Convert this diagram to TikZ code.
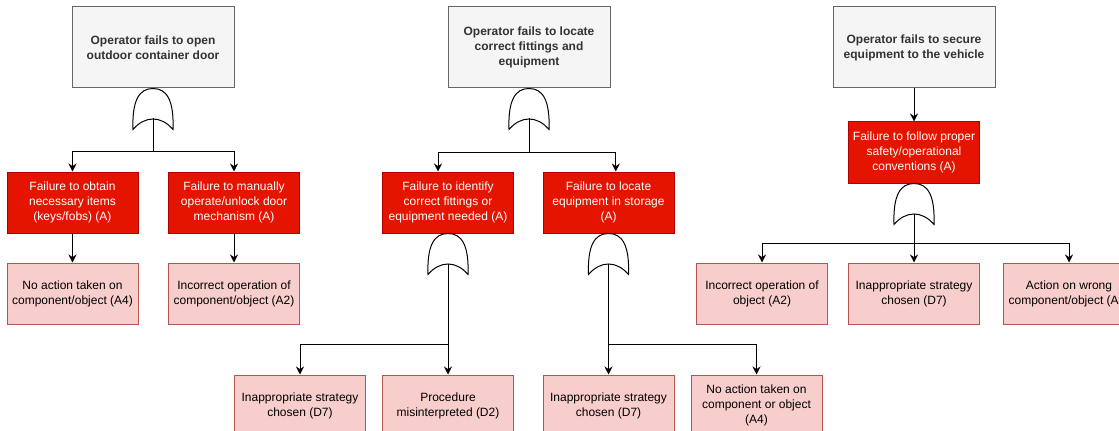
\documentclass[tikz,border=0pt]{standalone}
\usepackage{fontspec}
\setmainfont{Liberation Sans}
\usetikzlibrary{arrows.meta}

\definecolor{topfill}{HTML}{F5F5F5}
\definecolor{topline}{HTML}{666666}
\definecolor{toptext}{HTML}{333333}
\definecolor{failfill}{HTML}{E51400}
\definecolor{failline}{HTML}{B20000}
\definecolor{causefill}{HTML}{F8CECC}
\definecolor{causeline}{HTML}{B85450}

\tikzset{
  topbox/.style={draw=topline, fill=topfill, text=toptext, line width=0.75pt,
    minimum width=121.5pt, minimum height=60.75pt, align=center,
    font=\fontsize{9pt}{11.25pt}\selectfont\bfseries},
  failbox/.style={draw=failline, fill=failfill, text=white, line width=0.75pt,
    minimum width=98.25pt, minimum height=45.75pt, align=center,
    font=\fontsize{9pt}{11.25pt}\selectfont},
  causebox/.style={draw=causeline, fill=causefill, text=black, line width=0.75pt,
    minimum width=98.25pt, minimum height=45.75pt, align=center,
    font=\fontsize{9pt}{11.25pt}\selectfont},
  arr/.style={-{Stealth[length=6pt,width=6pt,inset=2pt]}, line width=0.75pt},
  link/.style={line width=0.75pt},
  orshape/.style={draw=black, fill=white, line width=0.75pt}
}

% OR gate hanging below a point: #1 = name, #2 = top point
\newcommand{\orgate}[2]{%
  \coordinate (#1) at #2;
  \draw[orshape, shift={(#1)}] (-20,41) .. controls (-21,12) and (-14,0) .. (0,0)
    .. controls (14,0) and (21,12) .. (20,41)
    .. controls (8,27) and (-8,27) .. cycle;
  \path[shift={(#1)}] (0,30) coordinate (#1o);
}

\begin{document}
\begin{tikzpicture}[x=0.75pt, y=-0.75pt]
  \clip (0,0) rectangle (1119,431);

  % Top events
  \node[topbox] (t1) at (153,47.5) {Operator fails to open\\outdoor container door};
  \node[topbox] (t2) at (529,47.5) {Operator fails to locate\\correct fittings and\\equipment};
  \node[topbox] (t3) at (914,47.5) {Operator fails to secure\\equipment to the vehicle};

  % Failures
  \node[failbox] (f1) at (72.5,202.5) {Failure to obtain\\necessary items\\(keys/fobs) (A)};
  \node[failbox] (f2) at (234,202.5) {Failure to manually\\operate/unlock door\\mechanism (A)};
  \node[failbox] (f3) at (448,202.5) {Failure to identify\\correct fittings or\\equipment needed (A)};
  \node[failbox] (f4) at (608.5,202.5) {Failure to locate\\equipment in storage\\(A)};
  \node[failbox] (f5) at (914,152.5) {Failure to follow proper\\safety/operational\\conventions (A)};

  % Causes
  \node[causebox] (c1) at (72.5,293.5) {No action taken on\\component/object (A4)};
  \node[causebox] (c2) at (234,293.5) {Incorrect operation of\\component/object (A2)};
  \node[causebox] (c3) at (300,405.5) {Inappropriate strategy\\chosen (D7)};
  \node[causebox] (c4) at (448,405.5) {Procedure\\misinterpreted (D2)};
  \node[causebox] (c5) at (608.5,405.5) {Inappropriate strategy\\chosen (D7)};
  \node[causebox] (c6) at (756.5,405.5) {No action taken on\\component or object\\(A4)};
  \node[causebox] (c7) at (762,293.5) {Incorrect operation of\\object (A2)};
  \node[causebox] (c8) at (914,293.5) {Inappropriate strategy\\chosen (D7)};
  \node[causebox] (c9) at (1069,293.5) {Action on wrong\\component/object (A3)};

  % Gates
  \orgate{g1}{(t1.south)}
  \orgate{g2}{(t2.south)}
  \orgate{g3}{(f3.south)}
  \orgate{g4}{(f4.south)}
  \orgate{g5}{(f5.south)}

  % Junctions
  \coordinate (j1) at (153,151);
  \coordinate (j2) at (529,152);
  \coordinate (j3) at (448,344);
  \coordinate (j4) at (608.5,344);
  \coordinate (j5) at (914,243);

  % Left tree
  \draw[link] (g1o) -- (j1);
  \draw[arr] (j1) -| (f1.north);
  \draw[arr] (j1) -| (f2.north);
  \draw[arr] (f1) -- (c1);
  \draw[arr] (f2) -- (c2);

  % Middle tree
  \draw[link] (g2o) -- (j2);
  \draw[arr] (j2) -| ([xshift=-7.5pt]f3.north);
  \draw[arr] (j2) -| ([xshift=5.5pt]f4.north);
  \draw[arr] (g3o) -- (c4.north);
  \draw[arr] (j3) -| (c3.north);
  \draw[arr] (g4o) -- (c5.north);
  \draw[arr] (j4) -| (c6.north);

  % Right tree
  \draw[arr] (t3) -- (f5);
  \draw[arr] (g5o) -- (c8.north);
  \draw[arr] (j5) -| (c7.north);
  \draw[arr] (j5) -| (c9.north);
\end{tikzpicture}
\end{document}
